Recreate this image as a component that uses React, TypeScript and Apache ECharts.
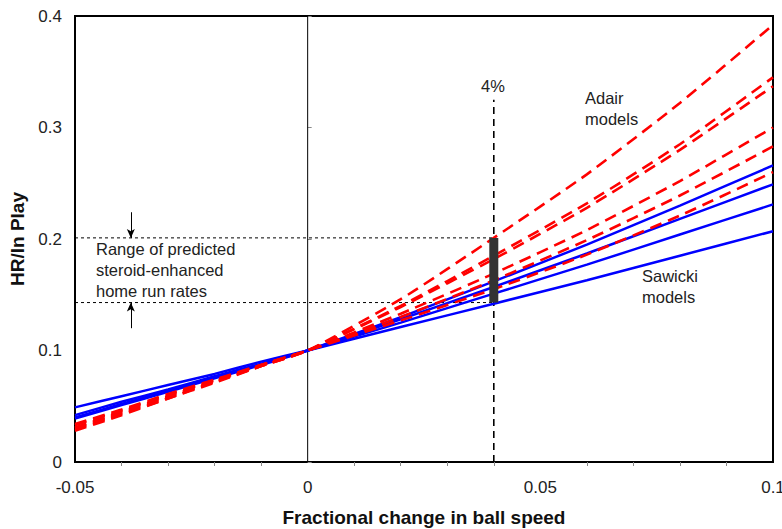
import React, { useEffect, useRef } from "react";
import * as echarts from "echarts";

const xs = [-0.05, -0.04, -0.03, -0.02, -0.01, 0, 0.02, 0.04, 0.06, 0.08, 0.1];

const sawicki1 = [0.039, 0.051, 0.063, 0.075, 0.087, 0.1, 0.13, 0.162, 0.195, 0.23, 0.266];
const sawicki2 = [0.04, 0.052, 0.064, 0.076, 0.088, 0.1, 0.128, 0.157, 0.187, 0.218, 0.249];
const sawicki3 = [0.042, 0.054, 0.065, 0.077, 0.088, 0.1, 0.125, 0.151, 0.177, 0.204, 0.231];
const sawicki4 = [0.049, 0.059, 0.069, 0.079, 0.09, 0.1, 0.121, 0.142, 0.163, 0.185, 0.207];

const adair1 = [0.028, 0.042, 0.057, 0.071, 0.086, 0.1, 0.146, 0.201, 0.258, 0.322, 0.392];
const adair2 = [0.029, 0.043, 0.057, 0.072, 0.086, 0.1, 0.14, 0.185, 0.232, 0.285, 0.345];
const adair3 = [0.03, 0.044, 0.058, 0.072, 0.086, 0.1, 0.139, 0.182, 0.228, 0.28, 0.337];
const adair4 = [0.031, 0.045, 0.059, 0.073, 0.087, 0.1, 0.133, 0.169, 0.208, 0.252, 0.3];
const adair5 = [0.033, 0.046, 0.06, 0.073, 0.087, 0.1, 0.13, 0.163, 0.199, 0.239, 0.283];
const adair6 = [0.034, 0.047, 0.061, 0.074, 0.087, 0.1, 0.127, 0.155, 0.186, 0.221, 0.26];

const sawickiModels = [sawicki1, sawicki2, sawicki3, sawicki4];
const adairModels = [adair1, adair2, adair3, adair4, adair5, adair6];

const speedMark = 0.04;
const rangeLow = 0.143;
const rangeHigh = 0.201;
const markTop = 0.325;
const arrowX = -0.038;
const arrowTopStart = 0.224;
const arrowBottomStart = 0.12;

const FONT = "'Liberation Sans', Arial, Helvetica, sans-serif";

export default function App() {
  const ref = useRef<HTMLDivElement>(null);

  useEffect(() => {
    if (!ref.current) return;
    const chart = echarts.init(ref.current, undefined, { renderer: "svg" });

    const pairs = (ys: number[]) => xs.map((x, i) => [x, ys[i]]);

    const series: any[] = [];
    sawickiModels.forEach((ys, i) => {
      series.push({
        type: "line",
        name: "Sawicki " + (i + 1),
        data: pairs(ys),
        smooth: 0.2,
        showSymbol: false,
        symbol: "none",
        lineStyle: { color: "#0000ff", width: 2.5 },
        z: 3,
      });
    });
    adairModels.forEach((ys, i) => {
      series.push({
        type: "line",
        name: "Adair " + (i + 1),
        data: pairs(ys),
        smooth: 0.2,
        showSymbol: false,
        symbol: "none",
        lineStyle: { color: "#ff0000", width: 2.6, type: [12, 7] },
        z: 4,
      });
    });
    // zero line
    series.push({
      type: "line",
      data: [
        [0, 0],
        [0, 0.4],
      ],
      symbol: "none",
      lineStyle: { color: "#000", width: 1 },
      z: 2,
    });
    // 4% dashed vertical
    series.push({
      type: "line",
      data: [
        [speedMark, 0],
        [speedMark, markTop],
      ],
      symbol: "none",
      lineStyle: { color: "#000", width: 1.6, type: [7, 5] },
      z: 2,
    });
    // range dotted horizontals
    [rangeHigh, rangeLow].forEach((v) => {
      series.push({
        type: "line",
        data: [
          [-0.05, v],
          [speedMark, v],
        ],
        symbol: "none",
        lineStyle: { color: "#000", width: 1, type: [3, 3] },
        z: 2,
      });
    });
    // range bar
    series.push({
      type: "line",
      data: [
        [speedMark, rangeLow],
        [speedMark, rangeHigh],
      ],
      symbol: "none",
      lineStyle: { color: "#333333", width: 9, cap: "butt" },
      z: 6,
    });
    // arrows
    series.push({
      type: "line",
      data: [],
      markLine: {
        silent: true,
        symbol: ["none", "arrow"],
        symbolSize: [6, 9],
        label: { show: false },
        lineStyle: { color: "#000", width: 1, type: "solid" },
        data: [
          [
            { coord: [arrowX, arrowTopStart] },
            { coord: [arrowX, rangeHigh] },
          ],
          [
            { coord: [arrowX, arrowBottomStart] },
            { coord: [arrowX, rangeLow] },
          ],
        ],
      },
    });

    const textStyle = (text: string, x: number, y: number, align = "left") => ({
      type: "text",
      x,
      y,
      style: {
        text,
        font: `16.5px ${FONT}`,
        fill: "#222",
        textAlign: align,
        textVerticalAlign: "middle",
      },
      z: 10,
    });

    chart.setOption({
      animation: false,
      grid: {
        left: 75,
        right: 9,
        top: 16,
        bottom: 67,
        show: true,
        borderColor: "#000",
        borderWidth: 2,
        backgroundColor: "#fff",
        outerBoundsMode: "none",
      },
      xAxis: {
        type: "value",
        min: -0.05,
        max: 0.1,
        interval: 0.05,
        name: "Fractional change in ball speed",
        nameLocation: "middle",
        nameGap: 46,
        nameTextStyle: { fontFamily: FONT, fontSize: 19, fontWeight: "bold", color: "#111" },
        axisLine: { show: false },
        axisTick: { show: false },
        minorTick: { show: true, splitNumber: 5, length: 4, lineStyle: { color: "#888" } },
        axisLabel: {
          fontFamily: FONT,
          fontSize: 17,
          color: "#222",
          margin: 17,
          formatter: (v: number) => (Math.abs(v) < 1e-9 ? "0" : String(Math.round(v * 100) / 100)),
        },
        splitLine: { show: false },
      },
      yAxis: {
        type: "value",
        min: 0,
        max: 0.4,
        interval: 0.1,
        name: "HR/In Play",
        nameLocation: "middle",
        nameGap: 48,
        nameTextStyle: { fontFamily: FONT, fontSize: 19, fontWeight: "bold", color: "#111" },
        axisLine: { show: false },
        axisTick: { show: true, inside: true, length: 4, lineStyle: { color: "#888" } },
        axisLabel: {
          fontFamily: FONT,
          fontSize: 17,
          color: "#222",
          margin: 13,
          formatter: (v: number) => (v === 0 ? "0" : String(Math.round(v * 10) / 10)),
        },
        splitLine: { show: false },
      },
      series,
      graphic: [
        textStyle("Range of predicted", 96, 249),
        textStyle("steroid-enhanced", 96, 270),
        textStyle("home run rates", 96, 291),
        textStyle("Adair", 585, 98),
        textStyle("models", 585, 119),
        textStyle("Sawicki", 642, 276),
        textStyle("models", 642, 297),
        textStyle("4%", 493, 86, "center"),
      ],
    });

    return () => chart.dispose();
  }, []);

  return (
    <div
      ref={ref}
      style={{ position: "fixed", left: 0, top: 0, width: 782, height: 529, background: "#fff" }}
    />
  );
}
